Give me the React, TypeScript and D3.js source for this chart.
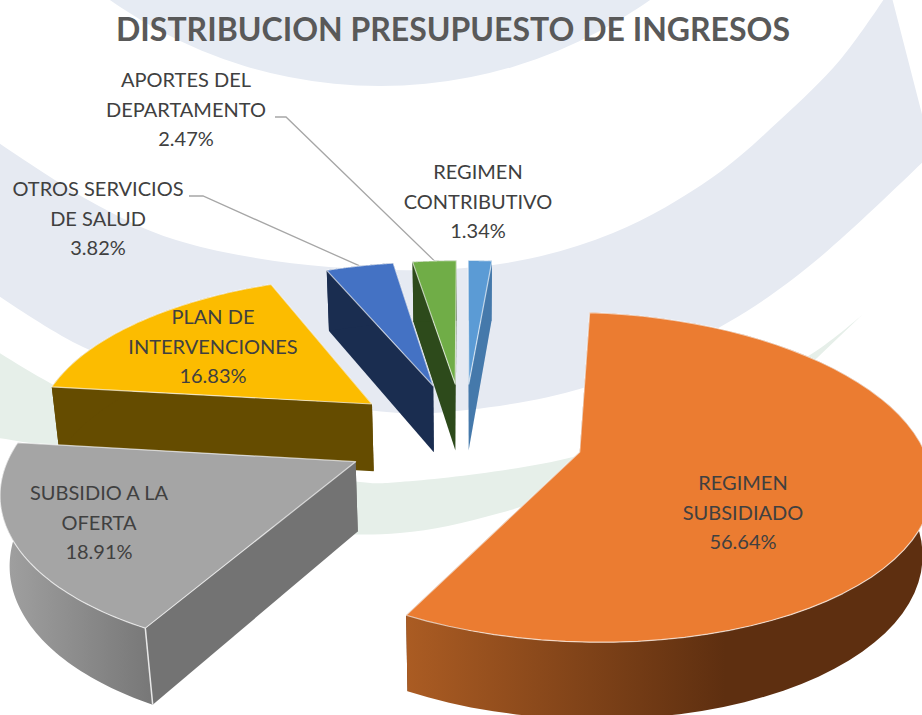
import React from 'react';
import * as d3 from 'd3';

// Data (Excel pie order, clockwise from 12 o'clock)
const names = ['REGIMEN CONTRIBUTIVO', 'REGIMEN SUBSIDIADO', 'SUBSIDIO A LA OFERTA', 'PLAN DE INTERVENCIONES', 'OTROS SERVICIOS DE SALUD', 'APORTES DEL DEPARTAMENTO'];
const values = [1.34, 56.64, 18.91, 16.83, 3.82, 2.47];
const labelLines = [
  ['REGIMEN', 'CONTRIBUTIVO'],
  ['REGIMEN', 'SUBSIDIADO'],
  ['SUBSIDIO A LA', 'OFERTA'],
  ['PLAN DE', 'INTERVENCIONES'],
  ['OTROS SERVICIOS', 'DE SALUD'],
  ['APORTES DEL', 'DEPARTAMENTO'],
];
const topColors = ['#5b9bd5', '#eb7c31', '#a5a5a5', '#fcbc00', '#4472c4', '#70ad47'];
const wallColors = ['#4579ab', '#5e2f10', '#737373', '#654c00', '#1a2d50', '#2d4a1b'];
const labelPos: [number, number][] = [[478, 179], [743, 490], [99, 500], [213, 324], [98, 196], [186, 87]];
const drawOrder = [5, 4, 0, 3, 1, 2];

// Background decoration, one curve per edge
const blueInner: [number, number][] = [[-10, 137], [88, 200], [176, 240], [329, 267], [493, 265], [613, 233], [713, 177], [780, 120], [840, 60], [890, -10]];
const blueOuter: [number, number][] = [[932, 153], [813, 263], [727, 323], [583, 388], [433, 413], [367, 410], [200, 385], [83, 347], [-10, 290]];
const greenUpper: [number, number][] = [[-10, 347], [50, 383], [150, 432], [360, 482], [400, 482], [573, 457], [700, 410], [813, 353], [862, 315]];
const greenLower: [number, number][] = [[817, 358], [700, 440], [500, 513], [400, 533], [300, 530], [150, 495], [57, 450], [-10, 437]];

// Projection of the tilted pie
const cx = 464;
const cy = 436;
const scale = 340;
const tilt = 0.46;
const persp = 0.15;
const explode = 0.35;
const depth = 70;
const depthPersp = 0.02;

function project(x: number, y: number, z: number): [number, number] {
  const den = 1 + persp * y + depthPersp * z;
  return [cx + (x * scale) / den, cy + (-y * tilt * scale + depth * z) / den];
}

const pieGen = d3.pie<number>().sort(null).startAngle(0).endAngle(2 * Math.PI);
const arcs = pieGen(values);

const line = d3.line<[number, number]>().x(d => d[0]).y(d => d[1]);
const smooth = d3.line<[number, number]>().x(d => d[0]).y(d => d[1]).curve(d3.curveCatmullRom);

function band(a: [number, number][], b: [number, number][]) {
  return smooth(a)! + 'L' + smooth(b)!.slice(1) + 'Z';
}

function sliceGeom(a: d3.PieArcDatum<number>) {
  const mid = (a.startAngle + a.endAngle) / 2;
  const ox = explode * Math.sin(mid);
  const oy = explode * Math.cos(mid);
  const point = (theta: number, r: number, z: number) =>
    project(ox + r * Math.sin(theta), oy + r * Math.cos(theta), z);
  const thetas = d3.range(0, 61).map(i => a.startAngle + ((a.endAngle - a.startAngle) * i) / 60);
  return { mid, point, thetas };
}

const fmt = d3.format('.2f');

function Slice({ i }: { i: number }) {
  const a = arcs[i];
  const { point, thetas } = sliceGeom(a);
  const apexTop = point(0, 0, 0);
  const apexBot = point(0, 0, 1);
  const rimTop = thetas.map(t => point(t, 1, 0));
  const rimBot = thetas.map(t => point(t, 1, 1));
  const wall = (t: number) => [apexTop, point(t, 1, 0), point(t, 1, 1), apexBot];
  const wallFill = i === 1 ? 'url(#rimOrange)' : i === 2 ? 'url(#rimGray)' : wallColors[i];
  return (
    <g>
      <title>{names[i]}</title>
      <path d={line(wall(a.endAngle))! + 'Z'} fill={wallColors[i]} />
      <path d={line(wall(a.startAngle))! + 'Z'} fill={wallColors[i]} />
      <path d={line([...rimTop, ...rimBot.slice().reverse()])! + 'Z'} fill={wallFill} />
      {i === 2 && (
        <path d={line([rimTop[0], point(a.startAngle, 1, 1)])!} stroke="#e8e8e8" strokeWidth={1.5} fill="none" />
      )}
      <path
        d={line([apexTop, ...rimTop])! + 'Z'}
        fill={topColors[i]}
        stroke="#fff"
        strokeOpacity={0.65}
        strokeWidth={1.2}
        strokeLinejoin="round"
      />
    </g>
  );
}

function Leader({ i, elbow }: { i: number; elbow: [number, number][] }) {
  const { mid, point } = sliceGeom(arcs[i]);
  const end = point(mid, 1, 0);
  return <path d={line([...elbow, end])!} fill="none" stroke="#a6a6a6" strokeWidth={1.3} />;
}

export default function App() {
  return (
    <svg width={922} height={715} style={{ position: 'absolute', left: 0, top: 0, background: '#fff' }} fontFamily="Lato, sans-serif">
      <defs>
        <linearGradient id="rimOrange" gradientUnits="userSpaceOnUse" x1={405} x2={725} y1={0} y2={0}>
          <stop offset="0" stopColor="#ab5c23" />
          <stop offset="1" stopColor="#5e2f10" />
        </linearGradient>
        <linearGradient id="rimGray" gradientUnits="userSpaceOnUse" x1={5} x2={160} y1={0} y2={0}>
          <stop offset="0" stopColor="#a0a0a0" />
          <stop offset="1" stopColor="#757575" />
        </linearGradient>
      </defs>

      {/* pale background shapes */}
      <circle cx={380} cy={-381} r={467} fill="#e6ebf3" />
      <path d={band(blueInner, blueOuter)} fill="#e6eaf2" />
      <path d={band(greenUpper, greenLower)} fill="#e6efe9" />

      <text x={453} y={41} textAnchor="middle" fontSize={32} fontWeight={700} fill="#595959">
        DISTRIBUCION PRESUPUESTO DE INGRESOS
      </text>

      <Leader i={4} elbow={[[189, 196], [203, 196]]} />
      <Leader i={5} elbow={[[275, 117], [286, 117]]} />

      {drawOrder.map(i => <Slice key={i} i={i} />)}

      {values.map((v, i) => (
        <text key={i} x={labelPos[i][0]} y={labelPos[i][1]} textAnchor="middle" fontSize={20} fill="#404040">
          {labelLines[i].map((t, j) => (
            <tspan key={j} x={labelPos[i][0]} dy={j === 0 ? 0 : 29.5}>{t}</tspan>
          ))}
          <tspan x={labelPos[i][0]} dy={29.5}>{fmt(v)}%</tspan>
        </text>
      ))}
    </svg>
  );
}
